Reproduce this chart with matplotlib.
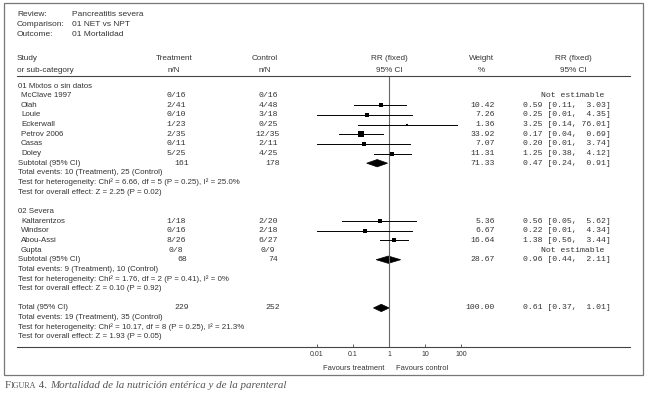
import numpy as np
import matplotlib.pyplot as plt
from matplotlib.patches import Rectangle, Polygon
from matplotlib.lines import Line2D

W, H = 648, 398

# review info
review = 'Pancreatitis severa'
comparison = '01 NET vs NPT'
outcome = '01 Mortalidad'

# subgroup 01
g1_name = '01 Mixtos o sin datos'
g1_studies = ['McClave 1997', 'Olah', 'Louie', 'Eckerwall', 'Petrov 2006', 'Casas', 'Doley']
g1_treat = ['0/16', '2/41', '0/10', '1/23', '2/35', '0/11', '5/25']
g1_ctrl = ['0/16', '4/48', '3/18', '0/25', '12/35', '2/11', '4/25']
g1_weight = [None, 10.42, 7.26, 1.36, 33.92, 7.07, 11.31]
g1_rr = [None, 0.59, 0.25, 3.25, 0.17, 0.20, 1.25]
g1_lo = [None, 0.11, 0.01, 0.14, 0.04, 0.01, 0.38]
g1_hi = [None, 3.03, 4.35, 76.01, 0.69, 3.74, 4.12]
g1_sub_n = [161, 178]
g1_sub_w = 71.33
g1_sub_rr = [0.47, 0.24, 0.91]
g1_notes = ['Total events: 10 (Treatment), 25 (Control)',
            'Test for heterogeneity: Chi\u00b2 = 6.66, df = 5 (P = 0.25), I\u00b2 = 25.0%',
            'Test for overall effect: Z = 2.25 (P = 0.02)']

# subgroup 02
g2_name = '02 Severa'
g2_studies = ['Kaltarentzos', 'Windsor', 'Abou-Assi', 'Gupta']
g2_treat = ['1/18', '0/16', '8/26', '0/8']
g2_ctrl = ['2/20', '2/18', '6/27', '0/9']
g2_weight = [5.36, 6.67, 16.64, None]
g2_rr = [0.56, 0.22, 1.38, None]
g2_lo = [0.05, 0.01, 0.56, None]
g2_hi = [5.62, 4.34, 3.44, None]
g2_sub_n = [68, 74]
g2_sub_w = 28.67
g2_sub_rr = [0.96, 0.44, 2.11]
g2_notes = ['Total events: 9 (Treatment), 10 (Control)',
            'Test for heterogeneity: Chi\u00b2 = 1.76, df = 2 (P = 0.41), I\u00b2 = 0%',
            'Test for overall effect: Z = 0.10 (P = 0.92)']

# overall
tot_n = [229, 252]
tot_w = 100.00
tot_rr = [0.61, 0.37, 1.01]
tot_notes = ['Total events: 19 (Treatment), 35 (Control)',
             'Test for heterogeneity: Chi\u00b2 = 10.17, df = 8 (P = 0.25), I\u00b2 = 21.3%',
             'Test for overall effect: Z = 1.93 (P = 0.05)']

ticks = [0.01, 0.1, 1, 10, 100]
tick_labels = ['0.01', '0.1', '1', '10', '100']

SANS = 'Liberation Sans'
MONO = 'Liberation Mono'
TXT = '#333333'
Y0, DY = 86, 9.65   # pixel y of first row and row spacing


def fx(x):
    return x / W


def fy(y):
    return 1 - y / H


def row_y(i):
    return Y0 + DY * i


fig = plt.figure(figsize=(W / 100, H / 100), dpi=100)


def t(x, y, s, mono=False, size=None, ha='left', **kw):
    fam = MONO if mono else SANS
    if size is None:
        size = 5.9 if mono else 5.7
    fig.text(fx(x), fy(y), s, family=fam, fontsize=size, ha=ha, va='center',
             color=TXT, **kw)


# frame
fig.add_artist(Rectangle((fx(4), fy(375)), fx(639), 372 / H, transform=fig.transFigure,
                         fill=False, ec='#777777', lw=0.9))

# header
for i, (k, v) in enumerate([('Review:', review), ('Comparison:', comparison), ('Outcome:', outcome)]):
    t(17, 14 + 10.2 * i, k, size=6.0)
    t(72, 14 + 10.2 * i, v, size=6.0)

t(17, 58, 'Study', size=5.9)
t(17, 70, 'or sub-category', size=5.9)
for x, a, b in [(174, 'Treatment', 'n/N'), (265, 'Control', 'n/N'), (389, 'RR (fixed)', '95% CI'),
                (481, 'Weight', '%'), (573, 'RR (fixed)', '95% CI')]:
    t(x, 58, a, ha='center', size=5.9)
    t(x, 70, b, ha='center', size=5.9)

fig.add_artist(Line2D([fx(17), fx(630)], [fy(76), fy(76)], transform=fig.transFigure,
                      color='#444444', lw=0.8))
fig.add_artist(Line2D([fx(17), fx(630)], [fy(row_y(27)), fy(row_y(27))], transform=fig.transFigure,
                      color='#444444', lw=0.8))

# forest axes
top = 76
bot = row_y(27)
ax = fig.add_axes([fx(317), fy(bot), (461 - 317) / W, (bot - top) / H])
ax.set_xscale('log')
ax.set_xlim(0.01, 100)
ax.set_ylim(27, (top - Y0) / DY)
for s in ax.spines.values():
    s.set_visible(False)
ax.patch.set_alpha(0)
ax.set_yticks([])
ax.set_xticks(ticks)
ax.set_xticklabels(tick_labels, family=SANS, fontsize=5, color=TXT)
ax.minorticks_off()
ax.tick_params(axis='x', direction='in', length=2.5, width=0.6, pad=3, color='#444444')
ax.axvline(1, color='#666666', lw=0.8)


def rr_text(rr, lo, hi):
    return f'{rr:.2f} [{lo:.2f}, {hi:5.2f}]'


def diamond(i, rr, lo, hi):
    h = 0.38
    ax.add_patch(Polygon([(lo, i), (rr, i - h), (hi, i), (rr, i + h)], closed=True,
                         fc='black', ec='black', lw=0.5))


def summary_rows(i, label, n, w, rr3, notes):
    t(18, row_y(i), label)
    t(182, row_y(i), str(n[0]), mono=True, ha='center')
    t(273, row_y(i), str(n[1]), mono=True, ha='center')
    t(495, row_y(i), f'{w:.2f}', mono=True, ha='right')
    t(523, row_y(i), rr_text(*rr3), mono=True)
    diamond(i, *rr3)
    for k, note in enumerate(notes):
        t(18, row_y(i + 1 + k), note)


def group(i, name, studies, treat, ctrl, weight, rr, lo, hi, sub_n, sub_w, sub_rr, notes):
    t(18, row_y(i), name)
    for k in range(len(studies)):
        r = i + 1 + k
        y = row_y(r)
        t(21, y, studies[k])
        t(176, y, treat[k], mono=True, ha='center')
        t(268, y, ctrl[k], mono=True, ha='center')
        if rr[k] is None:
            t(604, y, 'Not estimable', mono=True, ha='right')
            continue
        t(495, y, f'{weight[k]:.2f}', mono=True, ha='right')
        t(523, y, rr_text(rr[k], lo[k], hi[k]), mono=True)
        ax.plot([lo[k], hi[k]], [r, r], color='black', lw=0.7)
        ms = 1.6 + 0.35 * np.sqrt(weight[k])
        ax.plot(rr[k], r, marker='s', ms=ms, color='black', mec='black', mew=0)
    summary_rows(i + 1 + len(studies), 'Subtotal (95% CI)', sub_n, sub_w, sub_rr, notes)


group(0, g1_name, g1_studies, g1_treat, g1_ctrl, g1_weight, g1_rr, g1_lo, g1_hi,
      g1_sub_n, g1_sub_w, g1_sub_rr, g1_notes)
group(13, g2_name, g2_studies, g2_treat, g2_ctrl, g2_weight, g2_rr, g2_lo, g2_hi,
      g2_sub_n, g2_sub_w, g2_sub_rr, g2_notes)
summary_rows(23, 'Total (95% CI)', tot_n, tot_w, tot_rr, tot_notes)

t(384, 368, 'Favours treatment', ha='right', size=5.4)
t(396, 368, 'Favours control', size=5.4)

# caption with small caps "Figura"
renderer = fig.canvas.get_renderer()
x = 5.0
cap_y = 385
parts = [('F', 7.9, 'normal'), ('IGURA', 5.8, 'normal'), (' 4. ', 7.9, 'normal'),
         ('Mortalidad de la nutrición entérica y de la parenteral', 7.9, 'italic')]
for s, size, style in parts:
    tx = fig.text(fx(x), fy(cap_y + 3), s, family='Liberation Serif', fontsize=size,
                  style=style, ha='left', va='baseline', color='#555555')
    bb = tx.get_window_extent(renderer)
    x += bb.width

fig.savefig('out.png', dpi=100)
